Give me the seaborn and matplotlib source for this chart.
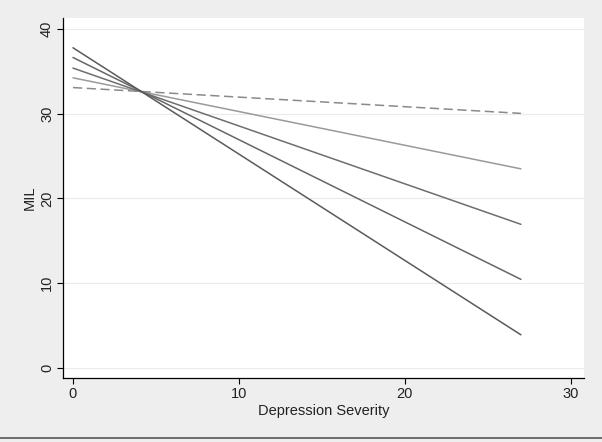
import pandas as pd
import numpy as np
import matplotlib
matplotlib.use("Agg")
import matplotlib.pyplot as plt
import seaborn as sns

# endpoints of the fitted lines (x = 0 and x = 27)
severity = [0, 27]
line_names = ["ref", "m1", "m2", "m3", "m4"]
mil_start = [33.1, 34.25, 35.4, 36.65, 37.8]
mil_end = [30.05, 23.5, 16.95, 10.45, 3.9]

rows = []
for name, y0, y1 in zip(line_names, mil_start, mil_end):
    rows.append({"sev": severity[0], "mil": y0, "grp": name})
    rows.append({"sev": severity[1], "mil": y1, "grp": name})
df = pd.DataFrame(rows)

sns.set_style("white")
plt.rcParams['font.family'] = ['Liberation Sans', 'DejaVu Sans']

fig = plt.figure(figsize=(6.02, 4.42), dpi=100, facecolor="#eeeeee")
ax = fig.add_axes([0.1047, 0.1448, 0.8653, 0.8142])
ax.set_facecolor("white")

pal = {"ref": "#8a8a8a", "m1": "#9a9a9a", "m2": "#6e6e6e", "m3": "#666666", "m4": "#5a5a5a"}
dashes = {"ref": (6, 3), "m1": "", "m2": "", "m3": "", "m4": ""}
sns.lineplot(data=df, x="sev", y="mil", hue="grp", style="grp", palette=pal,
             dashes=dashes, linewidth=1.1, legend=False, ax=ax)

ax.set_xlim(-0.6, 30.8)
ax.set_ylim(-1.2, 41.3)
ax.set_xticks([0, 10, 20, 30])
ax.set_yticks([0, 10, 20, 30, 40])
ax.yaxis.grid(True, color="#eaeaea", linewidth=0.8)
ax.set_axisbelow(True)
for s in ["top", "right"]:
    ax.spines[s].set_visible(False)
for s in ["left", "bottom"]:
    ax.spines[s].set_color("black")
    ax.spines[s].set_linewidth(0.9)
ax.tick_params(axis="both", direction="out", length=4, width=0.8, color="black",
               labelsize=10.5, pad=2.5, left=True, bottom=True, colors="#222222")
plt.setp(ax.get_yticklabels(), rotation=90, va="center")
ax.set_xlabel("Depression Severity", fontsize=10.5, color="#222222", labelpad=2)
ax.set_ylabel("MIL", fontsize=10.5, color="#222222", labelpad=2)

# dark line at the bottom of the outer frame
fig.add_artist(plt.Line2D([0, 1], [0.01, 0.01], color="#555555", linewidth=1.2))

fig.savefig("out.png", dpi=100, facecolor=fig.get_facecolor())
